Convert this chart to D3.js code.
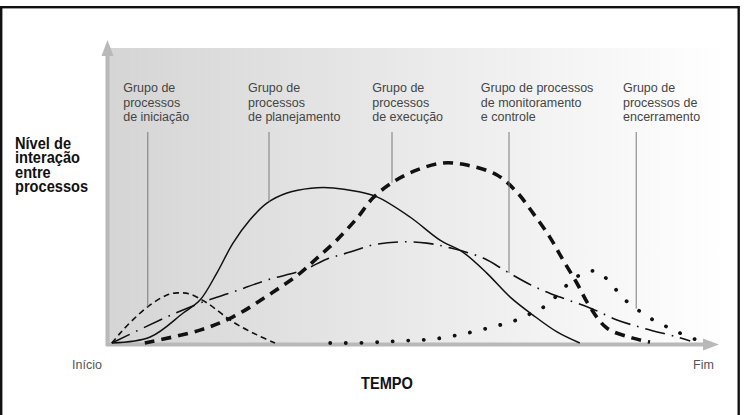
<!DOCTYPE html>
<html>
<head>
<meta charset="utf-8">
<script src="https://cdn.jsdelivr.net/npm/d3@7"></script>
<style>
  body { margin: 0; background: #fff; }
  svg { display: block; }
</style>
</head>
<body>
<div id="container"></div>
<script>
/* DATA - time (0 = Início, 100 = Fim) and level of interaction (0-100) */
const iniciacao = [[0.3,0],[1.7,3.3],[3.8,7.7],[6.7,12.7],[9.5,16],[11.2,16.7],[13.3,16.3],[16.2,13.3],[20.5,7],[24.5,2.7],[27.5,0]];
const planejamento = [[0.3,0],[6.7,2],[12.2,10],[15,14.3],[17.8,23.3],[20.5,33.3],[23.3,41],[26.2,46.7],[29.5,50],[33.5,51.6],[37.2,51.7],[41,50.6],[44.5,48.7],[50,42],[55,34.3],[58.8,30.3],[62.8,23.3],[66.7,15.3],[70.5,9.3],[74.5,3.7],[78.3,0]];
const execucao = [[5.8,0],[15,4.3],[20.5,8.7],[27.2,17],[31.7,23.3],[34.5,28.3],[37.8,34.3],[41.2,41.7],[43.8,48.3],[47.2,53.7],[51.2,57.7],[55.5,60],[59.5,59.3],[64.5,56],[67.8,50.3],[70.5,43.3],[73.3,35.3],[75.5,27.7],[77.8,20],[80,12],[82.8,5],[87,1.7],[90,0.3]];
const monitoramento = [[0.3,0],[9.5,8.7],[15,13.3],[20.5,17],[26.2,21],[32.2,24.3],[36.2,28],[40,30.3],[43.8,32.7],[48.3,33.7],[52.8,33.3],[56.7,31.7],[62.2,28.3],[66.2,23.7],[70.5,19],[75,15.3],[80,11.7],[84.5,7.7],[88.8,5],[94.5,2],[96.7,0.7]];
const encerramento = [[36.7,0],[42.8,0.1],[48.3,0.7],[53.8,1.3],[59.5,3.3],[65,6],[67.8,7.7],[70.3,10],[72.8,12.7],[76.7,20.3],[79.2,23.7],[80.5,24],[81.7,23.3],[83.7,19.3],[85.5,15],[87.8,11.3],[90,8.3],[92.5,5.7],[95,3.3],[97.8,1]];

const groupLabels = [
  ["Grupo de", "processos", "de iniciação"],
  ["Grupo de", "processos", "de planejamento"],
  ["Grupo de", "processos", "de execução"],
  ["Grupo de processos", "de monitoramento", "e controle"],
  ["Grupo de", "processos de", "encerramento"]
];
// where each label's pointer meets its curve, and where the label text starts (time units)
const pointerT = [6.3, 26.5, 47, 66.5, 87.7];
const labelT = [2.2, 23, 43.7, 61.8, 85.5];

const yTitle = ["Nível de", "interação", "entre", "processos"];
const xTitle = "TEMPO";
const startLabel = "Início", endLabel = "Fim";

/* SETUP */
const width = 744, height = 415;
const x = d3.scaleLinear().domain([0, 100]).range([110, 710]);
const y = d3.scaleLinear().domain([0, 100]).range([343, 43]);

const svg = d3.select("#container").append("svg")
  .attr("width", width)
  .attr("height", height);

// background gradient panel
const grad = svg.append("defs").append("linearGradient")
  .attr("id", "panel").attr("x1", "0").attr("x2", "1").attr("y1", "0").attr("y2", "0");
grad.append("stop").attr("offset", "0%").attr("stop-color", "#d5d5d5");
grad.append("stop").attr("offset", "55%").attr("stop-color", "#ececec");
grad.append("stop").attr("offset", "100%").attr("stop-color", "#ffffff");

svg.append("rect")
  .attr("x", 108).attr("y", 48)
  .attr("width", 617).attr("height", 296)
  .attr("fill", "url(#panel)");

// outer frame (its bottom edge runs off the picture)
svg.append("rect")
  .attr("x", 1.2).attr("y", 7.2)
  .attr("width", 737.5).attr("height", 420)
  .attr("fill", "none")
  .attr("stroke", "#111")
  .attr("stroke-width", 2.4);

/* AXES - plain arrows, no ticks */
const axisColor = "#b9b9b9";
svg.append("line")
  .attr("x1", 107.5).attr("x2", 107.5)
  .attr("y1", 346).attr("y2", 52)
  .attr("stroke", axisColor).attr("stroke-width", 4);
svg.append("path")
  .attr("d", "M107.5,40 L101.5,56 L113.5,56 Z")
  .attr("fill", axisColor);

svg.append("line")
  .attr("x1", 106).attr("x2", 706)
  .attr("y1", 344.5).attr("y2", 344.5)
  .attr("stroke", axisColor).attr("stroke-width", 4);
svg.append("path")
  .attr("d", "M719,344.5 L703,338.5 L703,350.5 Z")
  .attr("fill", axisColor);

/* CURVES */
const line = d3.line()
  .x(d => x(d[0]))
  .y(d => y(d[1]))
  .curve(d3.curveCatmullRom.alpha(0.5));

const series = [
  { data: iniciacao,     width: 1.6, dash: "6 4",         cap: "butt" },
  { data: planejamento,  width: 1.5, dash: null,          cap: "butt" },
  { data: execucao,      width: 3.6, dash: "10 7",        cap: "butt" },
  { data: monitoramento, width: 1.6, dash: "20 7 1.6 7",  cap: "butt" },
  { data: encerramento,  width: 3.8, dash: "0.1 15.5",    cap: "round" }
];

const paths = series.map(s => svg.append("path")
  .datum(s.data)
  .attr("d", line)
  .attr("fill", "none")
  .attr("stroke", "#111")
  .attr("stroke-width", s.width)
  .attr("stroke-dasharray", s.dash)
  .attr("stroke-linecap", s.cap)
  .node());

// y on a drawn path for a given pixel x
function yOnPath(path, px) {
  let lo = 0, hi = path.getTotalLength();
  for (let i = 0; i < 40; i++) {
    const mid = (lo + hi) / 2;
    if (path.getPointAtLength(mid).x < px) lo = mid; else hi = mid;
  }
  return path.getPointAtLength(lo).y;
}

/* GROUP LABELS AND POINTERS */
groupLabels.forEach((lines, i) => {
  const px = x(pointerT[i]);
  svg.append("line")
    .attr("x1", px).attr("x2", px)
    .attr("y1", 132).attr("y2", yOnPath(paths[i], px))
    .attr("stroke", "#7a7a7a")
    .attr("stroke-width", 1);

  const t = svg.append("text")
    .attr("x", x(labelT[i]))
    .attr("y", 92)
    .style("font-family", "'Liberation Sans', Arial, sans-serif")
    .style("font-size", "12.5px")
    .style("fill", "#454545");
  lines.forEach((s, j) => {
    t.append("tspan").attr("x", x(labelT[i])).attr("dy", j === 0 ? 0 : 14.5).text(s);
  });
});

/* AXIS TITLES - bold, squeezed sideways to look like a condensed face */
const boldFont = "'Liberation Sans', Arial, sans-serif";

const yt = svg.append("g")
  .attr("transform", "translate(15,149) scale(0.86,1)")
  .append("text")
  .style("font-family", boldFont)
  .style("font-weight", "bold")
  .style("font-size", "17px")
  .style("fill", "#111");
yTitle.forEach((s, j) => {
  yt.append("tspan").attr("x", 0).attr("y", j * 14.3).text(s);
});

svg.append("g")
  .attr("transform", "translate(387,389) scale(0.86,1)")
  .append("text")
  .style("text-anchor", "middle")
  .style("font-family", boldFont)
  .style("font-weight", "bold")
  .style("font-size", "17px")
  .style("fill", "#111")
  .text(xTitle);

svg.append("text")
  .attr("x", 102).attr("y", 369)
  .style("text-anchor", "end")
  .style("font-family", "'Liberation Sans', Arial, sans-serif")
  .style("font-size", "12.5px")
  .style("fill", "#555")
  .text(startLabel);

svg.append("text")
  .attr("x", 693).attr("y", 369)
  .style("font-family", "'Liberation Sans', Arial, sans-serif")
  .style("font-size", "12.5px")
  .style("fill", "#555")
  .text(endLabel);
</script>
</body>
</html>
